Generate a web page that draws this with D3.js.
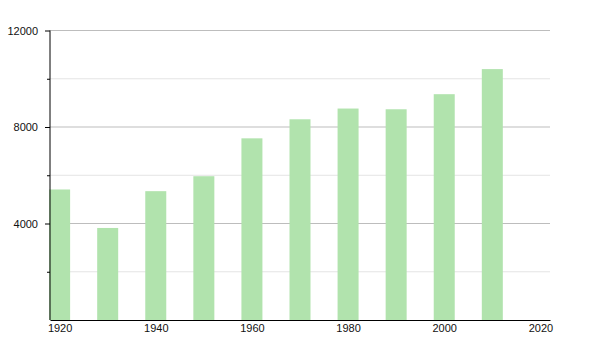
<!DOCTYPE html>
<html>
<head>
    <meta charset="utf-8">
    <title>Population bars</title>
    <style>
        body { margin: 0; background: #fff; }
        svg { display: block; font-family: 'Liberation Sans', Arial, sans-serif; }
        .tick text { font-size: 11px; fill: #111; }
        .domain { stroke: #000; }
    </style>
</head>
<body>
<svg width="600" height="350"></svg>
<script src="https://d3js.org/d3.v7.min.js"></script>
<script>
    // values
    let years = [1920, 1930, 1940, 1950, 1960, 1970, 1980, 1990, 2000, 2010];
    let population = [5410, 3815, 5340, 5960, 7530, 8320, 8765, 8735, 9360, 10400];
    let majorTicks = [4000, 8000, 12000];
    let minorTicks = [2000, 6000, 10000];
    let xTicks = [1920, 1940, 1960, 1980, 2000, 2020];

    let svg = d3.select("svg");
    let margin = { top: 30.5, right: 50, bottom: 30, left: 50 };

    let x = d3.scaleLinear()
        .domain([1918, 2022])
        .range([margin.left, 600 - margin.right]);

    let y = d3.scaleLinear()
        .domain([0, 12000])
        .range([320, margin.top]);

    // grid lines
    svg.append('g')
        .selectAll('line.minor')
        .data(minorTicks)
        .join('line')
        .attr('x1', x(1918)).attr('x2', x(2022))
        .attr('y1', d => y(d)).attr('y2', d => y(d))
        .attr('stroke', '#e4e4e4');

    svg.append('g')
        .selectAll('line.major')
        .data(majorTicks)
        .join('line')
        .attr('x1', x(1918)).attr('x2', x(2022))
        .attr('y1', d => y(d)).attr('y2', d => y(d))
        .attr('stroke', '#bdbdbd');

    // bars
    let barW = 21;
    svg.append('g')
        .selectAll('rect')
        .data(years)
        .join('rect')
        .attr('x', (d, i) => x(d) - barW / 2)
        .attr('y', (d, i) => y(population[i]))
        .attr('width', barW)
        .attr('height', (d, i) => y(0) - y(population[i]))
        .attr('fill', '#b1e3ad');

    // y axis with minor ticks
    svg.append('g')
        .attr('transform', `translate(${x(1918)},0)`)
        .call(d3.axisLeft(y).tickValues(minorTicks).tickSize(3).tickFormat(''))
        .call(g => g.select('.domain').remove());

    svg.append('g')
        .attr('class', 'y axis')
        .attr('transform', `translate(${x(1918)},0)`)
        .call(d3.axisLeft(y).tickValues(majorTicks).tickSize(5).tickPadding(7).tickSizeOuter(0).tickFormat(d3.format('d')))
        .call(g => g.select('.domain').attr('d', `M0,${y(0)}V${y(12000)}`));

    // x axis
    svg.append('g')
        .attr('class', 'x axis')
        .attr('transform', `translate(0,${y(0)})`)
        .call(d3.axisBottom(x).tickValues(xTicks).tickSize(0).tickPadding(4).tickSizeOuter(0).tickFormat(d3.format('d')));
</script>
</body>
</html>
